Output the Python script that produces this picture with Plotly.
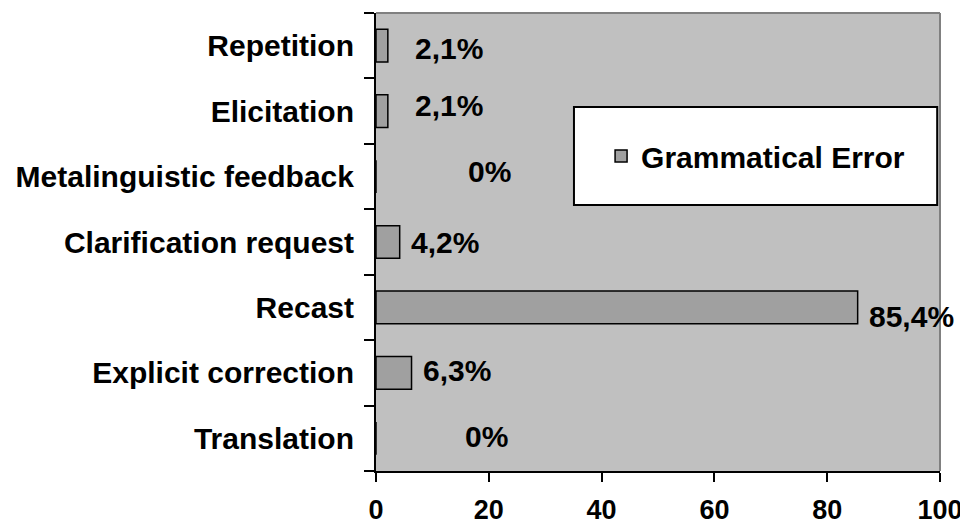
import plotly.graph_objects as go

categories = ["Translation", "Explicit correction", "Recast", "Clarification request",
              "Metalinguistic feedback", "Elicitation", "Repetition"]
values = [0, 6.3, 85.4, 4.2, 0, 2.1, 2.1]
labels = ["0%", "6,3%", "85,4%", "4,2%", "0%", "2,1%", "2,1%"]
label_xshift = [87, 9, 9, 9, 90, 25, 25]
label_yshift = [2, 2, -9, 0, 5, 6, -3]
x_ticks = [0, 20, 40, 60, 80, 100]
series_name = "Grammatical Error"

FONT = "Liberation Sans, Arial, sans-serif"

fig = go.Figure()
fig.add_trace(go.Bar(
    y=categories, x=values, orientation="h", name=series_name,
    marker=dict(color="#A0A0A0", line=dict(color="black", width=1.5)),
    width=0.5, showlegend=True,
))

for c, v, t, dx, dy in zip(categories, values, labels, label_xshift, label_yshift):
    fig.add_annotation(x=v, y=c, text="<b>%s</b>" % t, showarrow=False,
                       xanchor="left", yanchor="middle", xshift=dx, yshift=dy,
                       font=dict(family=FONT, size=30, color="black"))

# legend frame
fig.add_shape(type="rect", xref="paper", yref="paper",
              x0=0.351, x1=0.995, y0=0.581, y1=0.795,
              line=dict(color="black", width=2), fillcolor="white", layer="above")

# grey frame on top and right of plot area
fig.add_shape(type="line", xref="paper", yref="paper", x0=0, x1=1, y0=1, y1=1,
              line=dict(color="#808080", width=2))
fig.add_shape(type="line", xref="paper", yref="paper", x0=1, x1=1, y0=0, y1=1,
              line=dict(color="#808080", width=2))

fig.update_layout(
    width=960, height=521,
    margin=dict(l=368, r=28, t=5, b=58),
    paper_bgcolor="white", plot_bgcolor="#C0C0C0",
    font=dict(family=FONT, color="black"),
    legend=dict(x=0.673, y=0.688, xanchor="center", yanchor="middle",
                bgcolor="rgba(0,0,0,0)", borderwidth=0,
                font=dict(family=FONT, size=30, color="black", weight="bold")),
    xaxis=dict(range=[0, 100], tickvals=x_ticks, ticktext=["<b>%d</b>" % v for v in x_ticks],
               ticks="outside", ticklen=9, tickwidth=2, tickcolor="black",
               showline=True, linecolor="black", linewidth=2, showgrid=False,
               zeroline=False, ticklabelstandoff=5, automargin=False,
               tickfont=dict(family=FONT, size=27, color="black")),
    yaxis=dict(type="category", categoryorder="array", categoryarray=categories,
               tickson="boundaries", ticks="outside", ticklen=10, tickwidth=2, tickcolor="black",
               showline=True, linecolor="black", linewidth=2, showgrid=False,
               ticktext=["<b>%s</b>" % c for c in categories], tickvals=categories,
               ticklabelstandoff=14, automargin=False,
               tickfont=dict(family=FONT, size=30, color="black")),
)

fig.write_html("out.html")
